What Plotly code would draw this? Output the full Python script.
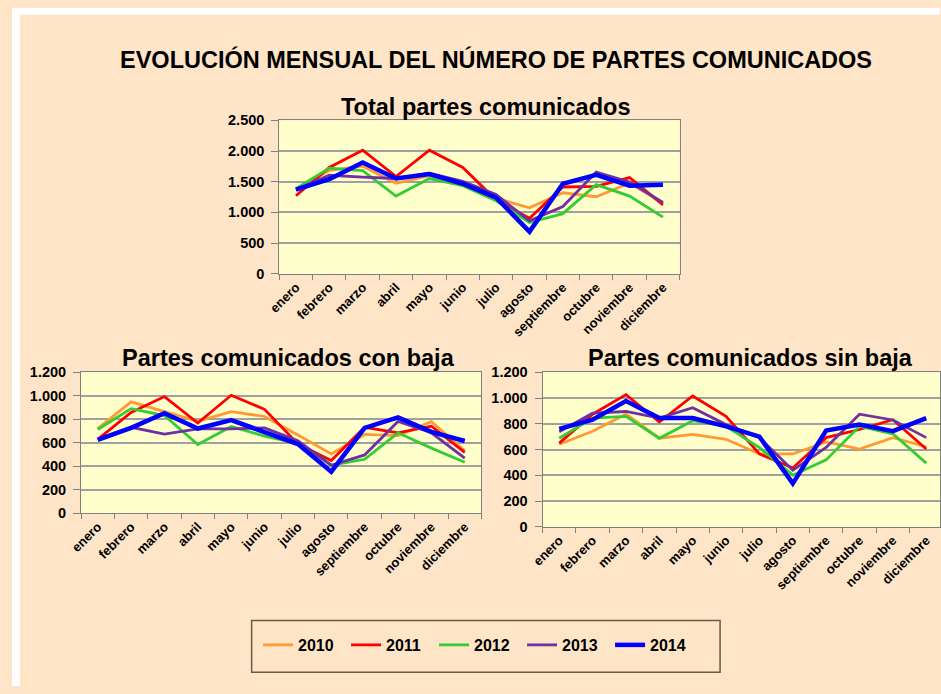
import plotly.graph_objects as go

months = ["enero", "febrero", "marzo", "abril", "mayo", "junio", "julio",
          "agosto", "septiembre", "octubre", "noviembre", "diciembre"]
years = ["2010", "2011", "2012", "2013", "2014"]

total_2010 = [1370, 1685, 1753, 1473, 1600, 1483, 1230, 1074, 1319, 1255, 1478, 1150]
total_2011 = [1271, 1732, 2013, 1584, 2013, 1732, 1200, 904, 1414, 1425, 1568, 1123]
total_2012 = [1388, 1722, 1680, 1266, 1552, 1436, 1190, 835, 980, 1452, 1266, 922]
total_2013 = [1372, 1605, 1573, 1552, 1637, 1504, 1290, 862, 1096, 1658, 1494, 1160]
total_2014 = [1372, 1541, 1812, 1552, 1626, 1467, 1240, 686, 1467, 1610, 1436, 1452]

con_2010 = [721, 949, 866, 782, 866, 824, 666, 504, 671, 660, 780, 532]
con_2011 = [629, 858, 994, 768, 1005, 885, 590, 449, 732, 685, 741, 518]
con_2012 = [713, 891, 832, 585, 738, 657, 595, 408, 459, 685, 554, 434]
con_2013 = [629, 732, 674, 718, 718, 727, 616, 408, 496, 782, 685, 468]
con_2014 = [624, 727, 852, 721, 793, 693, 589, 353, 727, 816, 693, 615]

sin_2010 = [642, 743, 875, 688, 718, 680, 566, 566, 660, 604, 693, 622]
sin_2011 = [650, 875, 1027, 814, 1017, 858, 566, 457, 693, 756, 832, 604]
sin_2012 = [688, 845, 858, 688, 825, 781, 616, 401, 520, 781, 723, 495]
sin_2013 = [738, 883, 896, 845, 926, 794, 693, 439, 616, 875, 830, 693]
sin_2014 = [761, 832, 977, 845, 845, 781, 700, 337, 748, 794, 743, 845]

total_tickvals = [0, 500, 1000, 1500, 2000, 2500]
total_ticktext = ["0", "500", "1.000", "1.500", "2.000", "2.500"]
sub_tickvals = [0, 200, 400, 600, 800, 1000, 1200]
sub_ticktext = ["0", "200", "400", "600", "800", "1.000", "1.200"]

main_title = "EVOLUCIÓN MENSUAL DEL NÚMERO DE PARTES COMUNICADOS"
title_total = "Total partes comunicados"
title_con = "Partes comunicados con baja"
title_sin = "Partes comunicados sin baja"

colors = ["#FF9933", "#FF0000", "#33CC33", "#7030A0", "#0000FF"]
widths = [2.8, 2.8, 2.8, 2.8, 4.5]

W, H = 941, 694
FONT = "Liberation Sans, Arial, sans-serif"
PEACH = "#FFE5C8"
PLOTBG = "#FFFFCC"


def fx(px):
    return px / W


def fy(py):
    return 1 - py / H


fig = go.Figure()

panels = [
    ("x", "y", [total_2010, total_2011, total_2012, total_2013, total_2014], True),
    ("x2", "y2", [con_2010, con_2011, con_2012, con_2013, con_2014], False),
    ("x3", "y3", [sin_2010, sin_2011, sin_2012, sin_2013, sin_2014], False),
]
for xa, ya, series, show in panels:
    for i, yr in enumerate(years):
        fig.add_trace(go.Scatter(
            x=months, y=series[i], mode="lines", name=yr,
            line=dict(color=colors[i], width=widths[i]),
            xaxis=xa, yaxis=ya, legendgroup=yr, showlegend=show,
            hoverinfo="skip",
        ))

xtickfont = dict(family=FONT, size=13, color="#000000", weight="bold")
ytickfont = dict(family=FONT, size=14.5, color="#000000", weight="bold")


def xaxis(domain, rng, anchor):
    return dict(domain=domain, anchor=anchor, type="category",
                categoryorder="array", categoryarray=months,
                range=rng, tickson="boundaries", ticks="outside", ticklen=5,
                tickcolor="#808080", showline=True, linecolor="#808080",
                linewidth=1, mirror=True, showgrid=False, tickangle=-45,
                tickfont=xtickfont, fixedrange=True)


def yaxis(domain, rng, tv, tt, anchor):
    return dict(domain=domain, anchor=anchor, range=rng, tickvals=tv,
                ticktext=tt, ticks="outside", ticklen=7, tickcolor="#808080",
                ticklabelstandoff=4,
                showline=True, linecolor="#808080", linewidth=1, mirror=True,
                showgrid=True, gridcolor="#A0A0A0", gridwidth=1.5,
                zeroline=False, tickfont=ytickfont, fixedrange=True)


br_end = -0.5 + (941 - 538) / 33.83

fig.update_layout(
    width=W, height=H, autosize=False,
    margin=dict(l=0, r=0, t=0, b=0),
    paper_bgcolor=PEACH, plot_bgcolor=PLOTBG,
    font=dict(family=FONT, color="#000000"),
    xaxis=xaxis([fx(271), fx(677)], [-0.5, 11.5], "y"),
    yaxis=yaxis([fy(272), fy(115)], [0, 2500], total_tickvals, total_ticktext, "x"),
    xaxis2=xaxis([fx(70), fx(476)], [-0.5, 11.5], "y2"),
    yaxis2=yaxis([fy(517), fy(373)], [0, 1200], sub_tickvals, sub_ticktext, "x2"),
    xaxis3=xaxis([fx(538), 1.0], [-0.5, br_end], "y3"),
    yaxis3=yaxis([fy(531), fy(373)], [0, 1200], sub_tickvals, sub_ticktext, "x3"),
    showlegend=True,
    legend=dict(orientation="h", x=fx(249.5), xanchor="left", y=fy(652),
                yanchor="middle", bgcolor="rgba(0,0,0,0)", borderwidth=0,
                font=dict(family=FONT, size=16, color="#000000", weight="bold"),
                entrywidth=43, entrywidthmode="pixels", traceorder="normal"),
    shapes=[
        dict(type="rect", xref="paper", yref="paper", x0=0, x1=1,
             y0=fy(7), y1=1, fillcolor="#FFFFFF", line=dict(width=0)),
        dict(type="rect", xref="paper", yref="paper", x0=0, x1=fx(8),
             y0=0, y1=1, fillcolor="#FFFFFF", line=dict(width=0)),
        dict(type="rect", xref="paper", yref="paper", x0=fx(243), x1=fx(718),
             y0=fy(680), y1=fy(627), fillcolor="rgba(0,0,0,0)",
             line=dict(color="#6B5A45", width=1.5)),
    ],
    annotations=[
        dict(text=main_title, x=fx(491), y=fy(53), xref="paper", yref="paper",
             showarrow=False, xanchor="center", yanchor="middle",
             font=dict(family=FONT, size=23.5, color="#000000", weight="bold")),
        dict(text=title_total, x=fx(480), y=fy(101), xref="paper", yref="paper",
             showarrow=False, xanchor="center", yanchor="middle",
             font=dict(family=FONT, size=23.5, color="#000000", weight="bold")),
        dict(text=title_con, x=fx(280), y=fy(358), xref="paper", yref="paper",
             showarrow=False, xanchor="center", yanchor="middle",
             font=dict(family=FONT, size=23.5, color="#000000", weight="bold")),
        dict(text=title_sin, x=fx(749), y=fy(358), xref="paper", yref="paper",
             showarrow=False, xanchor="center", yanchor="middle",
             font=dict(family=FONT, size=23.5, color="#000000", weight="bold")),
    ],
)

fig.write_html("out.html", config={"displayModeBar": False},
               post_script="document.body.style.margin='0';document.body.style.overflow='hidden';")
